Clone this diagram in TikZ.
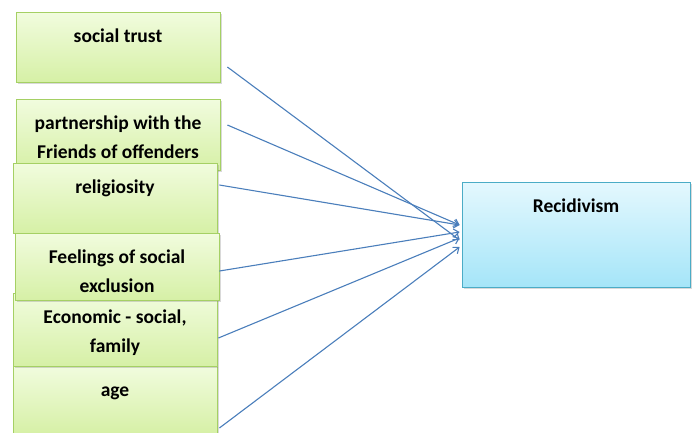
\documentclass[tikz,border=0pt]{standalone}
\usepackage{fontspec}
\setmainfont{Carlito}
\usetikzlibrary{arrows.meta,shadows}
\definecolor{boxedge}{RGB}{165,208,100}
\definecolor{boxtop}{RGB}{241,252,222}
\definecolor{boxbot}{RGB}{214,240,166}
\definecolor{outedge}{RGB}{75,172,198}
\definecolor{outtop}{RGB}{228,248,254}
\definecolor{outbot}{RGB}{165,229,248}
\definecolor{arrowblue}{RGB}{74,126,187}
\tikzset{
  factor/.style={draw=boxedge, line width=0.8pt, top color=boxtop, bottom color=boxbot,
    minimum width=204pt, inner sep=0pt,
    drop shadow={shadow xshift=1.5pt, shadow yshift=-2pt, opacity=0.3}},
  result/.style={draw=outedge, line width=0.8pt, top color=outtop, bottom color=outbot,
    minimum width=228pt, minimum height=105pt, inner sep=0pt,
    drop shadow={shadow xshift=1.5pt, shadow yshift=-2pt, opacity=0.3}},
  caption/.style={anchor=north, inner sep=0pt, yshift=-10pt, align=center,
    font=\fontsize{19.5}{29}\selectfont\bfseries},
  link/.style={draw=arrowblue, line width=1.1pt, -{Straight Barb[length=5pt,width=8pt]}}
}
\begin{document}
\begin{tikzpicture}[x=1pt,y=-1pt]
  \useasboundingbox (0,0) rectangle (695,432);
  \clip (0,0) rectangle (695,432);

  % factors
  \node [factor, minimum height=70pt] (trust)   at (118,47)    {};
  \node [factor, minimum height=71pt] (partner) at (118,134.5) {};
  \node [factor, minimum height=70pt] (relig)   at (115,198)   {};
  \node [factor, minimum height=68pt] (age)     at (115,400)   {};
  \node [factor, minimum height=73pt] (econ)    at (115,329.5) {};
  \node [factor, minimum height=67pt] (feel)    at (117,266.5) {};

  % outcome
  \node [result] (recid) at (576,234.5) {};

  % texts
  \node [caption] (trusttext)   at (trust.north)   {\strut social trust};
  \node [caption] (partnertext) at (partner.north) {\strut partnership with the\\Friends of offenders};
  \node [caption] (religtext)   at (relig.north)   {\strut religiosity};
  \node [caption] (feeltext)    at (feel.north)    {\strut Feelings of social\\exclusion};
  \node [caption] (econtext)    at (econ.north)    {\strut Economic - social,\\family};
  \node [caption] (agetext)     at (age.north)     {\strut age};
  \node [caption] (recidtext)   at (recid.north)   {\strut Recidivism};

  % arrows
  \draw [link] ([xshift=7pt,yshift=-20pt]trust.east)   -- ([xshift=-2pt,yshift=-5.5pt]recid.west);
  \draw [link] ([xshift=7pt,yshift=9.5pt]partner.east) -- ([xshift=-2pt,yshift=9.5pt]recid.west);
  \draw [link] ([xshift=2pt,yshift=13pt]relig.east)    -- ([xshift=-2pt,yshift=9.5pt]recid.west);
  \draw [link] ([yshift=-4.5pt]feel.east)              -- ([xshift=-2pt,yshift=2.5pt]recid.west);
  \draw [link] ([xshift=1pt,yshift=-8.5pt]econ.east)   -- ([xshift=-2pt,yshift=-3.5pt]recid.west);
  \draw [link] ([xshift=2pt,yshift=-28pt]age.east)     -- ([xshift=-2pt,yshift=-12.5pt]recid.west);
\end{tikzpicture}
\end{document}
